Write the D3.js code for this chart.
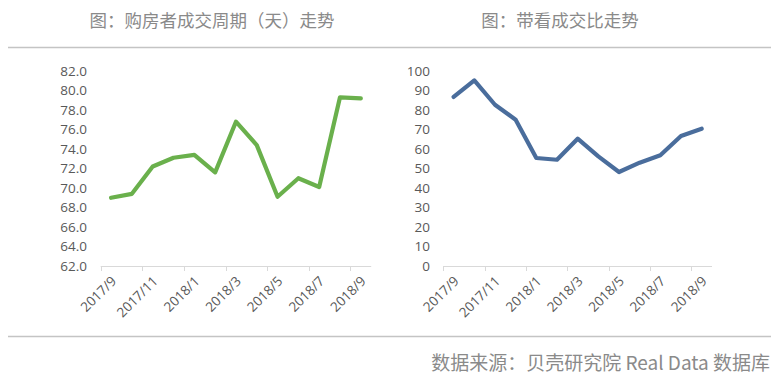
<!DOCTYPE html>
<html><head><meta charset="utf-8">
<script src="https://cdn.jsdelivr.net/npm/d3@7"></script>
<style>body{margin:0;background:#fff}svg{display:block}</style>
</head><body>
<svg id="c" width="779" height="384"></svg>
<script>
const months = ["2017/9","2017/10","2017/11","2017/12","2018/1","2018/2","2018/3","2018/4","2018/5","2018/6","2018/7","2018/8","2018/9"];
const cycleDays = [69.0,69.4,72.2,73.1,73.4,71.6,76.8,74.4,69.1,71.0,70.1,79.3,79.2];
const viewRatio = [86.7,95.2,82.7,75.0,55.4,54.5,65.3,56.2,48.2,53.0,56.8,66.7,70.4];
const leftTicks = [62,64,66,68,70,72,74,76,78,80,82];
const rightTicks = [0,10,20,30,40,50,60,70,80,90,100];
const titles = ["图：购房者成交周期（天）走势","图：带看成交比走势"];
const source = "数据来源：贝壳研究院 Real Data 数据库";

const svg = d3.select("#c");
const font = "'Microsoft YaHei','Noto Sans CJK SC',sans-serif";

svg.append("line").attr("x1",8).attr("x2",771).attr("y1",47.5).attr("y2",47.5).attr("stroke","#c4c4c4").attr("stroke-width",1.5);
svg.append("line").attr("x1",8).attr("x2",771).attr("y1",336.5).attr("y2",336.5).attr("stroke","#c4c4c4").attr("stroke-width",1.5);

svg.append("text").attr("x",212).attr("y",27).attr("text-anchor","middle").attr("font-family",font).attr("font-size",17.5).attr("fill","#8a8a8a").text(titles[0]);
svg.append("text").attr("x",560).attr("y",27).attr("text-anchor","middle").attr("font-family",font).attr("font-size",17.5).attr("fill","#8a8a8a").text(titles[1]);
svg.append("text").attr("x",770).attr("y",370).attr("text-anchor","end").attr("font-family",font).attr("font-size",19).attr("fill","#8a8a8a").text(source);

function chart(cfg){
  const x = d3.scaleBand().domain(months).range([cfg.x0,cfg.x1]).padding(0);
  const y = d3.scaleLinear().domain(cfg.domain).range([266,71]);
  const g = svg.append("g");
  g.selectAll("text.yl").data(cfg.ticks).join("text")
    .attr("x",cfg.labelX).attr("y",d=>y(d)).attr("dy","0.35em")
    .attr("text-anchor","end").attr("font-family","'Segoe UI','Open Sans',sans-serif").attr("font-size",13.5).attr("fill","#595959")
    .text(cfg.fmt);
  g.append("line").attr("x1",cfg.x0).attr("x2",cfg.x1).attr("y1",266.5).attr("y2",266.5).attr("stroke","#d9d9d9").attr("stroke-width",1);
  const tickIdx = months.map((m,i)=>i).filter(i=>i%2===0);
  g.selectAll("line.tk").data(tickIdx).join("line")
    .attr("x1",i=>Math.round(x(months[i]))+0.5).attr("x2",i=>Math.round(x(months[i]))+0.5)
    .attr("y1",266).attr("y2",271).attr("stroke","#d9d9d9");
  g.selectAll("text.xl").data(tickIdx).join("text")
    .attr("transform",i=>`translate(${x(months[i])+x.bandwidth()/2+6},${282}) rotate(-45)`)
    .attr("text-anchor","end").attr("font-family","'Segoe UI','Open Sans',sans-serif").attr("font-size",13.5).attr("fill","#595959")
    .text(i=>months[i]);
  const line = d3.line().x((d,i)=>x(months[i])+x.bandwidth()/2).y(d=>y(d));
  g.append("path").attr("d",line(cfg.data)).attr("fill","none").attr("stroke",cfg.color).attr("stroke-width",4.2).attr("stroke-linejoin","round").attr("stroke-linecap","round");
}
chart({x0:100.7,x1:371.2,domain:[62,82],ticks:leftTicks,labelX:87,fmt:d=>d.toFixed(1),data:cycleDays,color:"#6ab04c"});
chart({x0:443.3,x1:712,domain:[0,100],ticks:rightTicks,labelX:430,fmt:d=>String(d),data:viewRatio,color:"#4a6d9c"});
</script>
</body></html>
